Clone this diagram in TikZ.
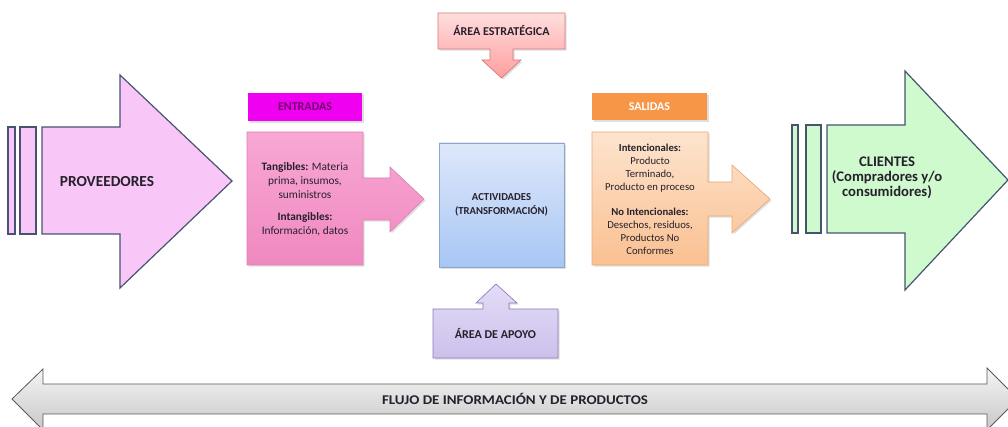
\documentclass[tikz,border=0pt]{standalone}
\usepackage{fontspec}
\setmainfont{Carlito}
\usetikzlibrary{shadows}
\definecolor{provfill}{RGB}{249,199,247}
\definecolor{clifill}{RGB}{206,250,206}
\definecolor{bigborder}{RGB}{70,84,112}
\definecolor{entlabel}{RGB}{240,0,240}
\definecolor{entlabeltext}{RGB}{110,0,110}
\definecolor{enttop}{RGB}{248,168,212}
\definecolor{entbot}{RGB}{240,136,192}
\definecolor{entborder}{RGB}{222,128,178}
\definecolor{esttop}{RGB}{255,222,222}
\definecolor{estbot}{RGB}{255,158,158}
\definecolor{estborder}{RGB}{215,120,120}
\definecolor{acttop}{RGB}{222,232,250}
\definecolor{actbot}{RGB}{168,198,244}
\definecolor{actborder}{RGB}{140,165,200}
\definecolor{apotop}{RGB}{228,220,246}
\definecolor{apobot}{RGB}{204,192,236}
\definecolor{apoborder}{RGB}{140,122,180}
\definecolor{sallabel}{RGB}{247,150,70}
\definecolor{saltop}{RGB}{253,228,206}
\definecolor{salbot}{RGB}{250,192,145}
\definecolor{salborder}{RGB}{232,168,118}
\definecolor{flowtop}{RGB}{245,245,245}
\definecolor{flowbot}{RGB}{200,200,200}
\definecolor{txtdark}{RGB}{38,32,44}
\tikzset{
  bigarrow/.style={draw=bigborder, line width=0.9pt, line join=miter},
  softshadow/.style={drop shadow={opacity=0.25, shadow xshift=1.2pt, shadow yshift=-1.2pt}},
  bigtxt/.style={font=\fontsize{11.5}{11.5}\selectfont\bfseries, text=txtdark, align=center, inner sep=0pt},
  boxtxt/.style={font=\fontsize{9}{10.5}\selectfont\bfseries, text=txtdark, align=center, inner sep=0pt},
  smalltxt/.style={text=txtdark, align=center, inner sep=0pt}
}
\begin{document}
\begin{tikzpicture}[x=0.75pt,y=-0.75pt]
\useasboundingbox (0,0) rectangle (1008,427);
\clip (0,0) rectangle (1008,427);

% ---------- PROVEEDORES ----------
\filldraw[bigarrow, fill=provfill] (8,127) rectangle (15,234);
\filldraw[bigarrow, fill=provfill] (20,127) rectangle (36,234);
\filldraw[bigarrow, fill=provfill] (42,127) -- (120,127) -- (120,75) -- (232,181)
  -- (120,288) -- (120,234) -- (42,234) -- cycle;
\node[bigtxt] (prov) at (107,182) {PROVEEDORES};

% ---------- CLIENTES ----------
\filldraw[bigarrow, fill=clifill] (792,125) rectangle (798,233);
\filldraw[bigarrow, fill=clifill] (806,125) rectangle (821,233);
\filldraw[bigarrow, fill=clifill] (827,125) -- (905,125) -- (905,71) -- (1008,180)
  -- (905,290) -- (905,233) -- (827,233) -- cycle;
\node[bigtxt, font=\fontsize{11}{11.3}\selectfont\bfseries] (cli) at (887,178)
  {CLIENTES\\(Compradores y/o\\consumidores)};

% ---------- ENTRADAS ----------
\fill[entlabel, softshadow] (248,93) rectangle (362,121);
\node[boxtxt, text=entlabeltext] (entl) at (305,107) {ENTRADAS};
\shadedraw[draw=entborder, line width=0.5pt, top color=enttop, bottom color=entbot, softshadow]
  (247,132) -- (363,132) -- (363,178) -- (390,178) -- (390,167) -- (424,199)
  -- (390,232) -- (390,220) -- (363,220) -- (363,265) -- (247,265) -- cycle;
\node[smalltxt, font=\fontsize{8.5}{10.5}\selectfont] (ent) at (305,199)
  {\textbf{Tangibles:} Materia\\prima, insumos,\\suministros\\[6pt]
   \textbf{Intangibles:}\\Información, datos};

% ---------- AREA ESTRATEGICA ----------
\shadedraw[draw=estborder, line width=0.5pt, top color=esttop, bottom color=estbot, softshadow]
  (438,13) -- (565,13) -- (565,49) -- (513,49) -- (513,60) -- (521,60) -- (501.5,78)
  -- (482,60) -- (490,60) -- (490,49) -- (438,49) -- cycle;
\node[boxtxt] (est) at (501.5,31) {ÁREA ESTRATÉGICA};

% ---------- ACTIVIDADES ----------
\shadedraw[draw=actborder, line width=0.5pt, top color=acttop, bottom color=actbot, softshadow]
  (439,143) rectangle (564,267);
\node[boxtxt, font=\fontsize{8}{10.5}\selectfont\bfseries] (act) at (501.5,205)
  {ACTIVIDADES\\(TRANSFORMACIÓN)};

% ---------- AREA DE APOYO ----------
\shadedraw[draw=apoborder, line width=0.5pt, top color=apotop, bottom color=apobot, softshadow]
  (433,309) -- (483,309) -- (483,303) -- (476,303) -- (496,284) -- (517,303)
  -- (509,303) -- (509,309) -- (558,309) -- (558,358) -- (433,358) -- cycle;
\node[boxtxt] (apo) at (495.5,334) {ÁREA DE APOYO};

% ---------- SALIDAS ----------
\fill[sallabel, softshadow] (592,93) rectangle (707,120);
\node[boxtxt, text=white] (sall) at (649.5,106.5) {SALIDAS};
\shadedraw[draw=salborder, line width=0.5pt, top color=saltop, bottom color=salbot, softshadow]
  (592,132) -- (708,132) -- (708,182) -- (732,182) -- (732,165) -- (770,199)
  -- (732,233) -- (732,216) -- (708,216) -- (708,265) -- (592,265) -- cycle;
\node[smalltxt, font=\fontsize{8}{9.75}\selectfont] (sal) at (650,199)
  {\textbf{Intencionales:}\\Producto\\Terminado,\\Producto en proceso\\[9pt]
   \textbf{No Intencionales:}\\Desechos, residuos,\\Productos No\\Conformes};

% ---------- FLUJO ----------
\shadedraw[draw=black!65, line width=0.6pt, top color=flowtop, bottom color=flowbot]
  (12,399) -- (43,369) -- (43,384) -- (987,384) -- (987,368) -- (1018,399)
  -- (987,430) -- (987,414) -- (43,414) -- (43,430) -- cycle;
\node[smalltxt, font=\fontsize{10}{12}\selectfont\bfseries] (flujo) at (515,399)
  {\scalebox{1.12}[1]{FLUJO DE INFORMACIÓN Y DE PRODUCTOS}};
\end{tikzpicture}
\end{document}
